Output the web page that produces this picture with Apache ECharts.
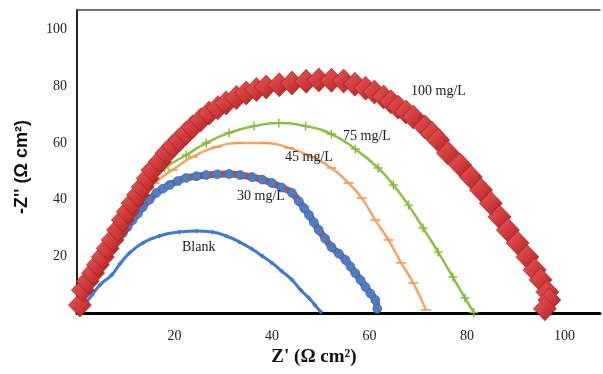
<!DOCTYPE html>
<html>
<head>
<meta charset="utf-8">
<script src="https://cdn.jsdelivr.net/npm/echarts@6/dist/echarts.min.js"></script>
<style>
html,body{margin:0;padding:0;background:#fff;}
#chart{width:603px;height:374px;}
</style>
</head>
<body>
<div id="chart"></div>
<script>
// Tick labels
const xTickLabels = [20, 40, 60, 80, 100];
const yTickLabels = [20, 40, 60, 80, 100];

// Series names
const seriesNames = ['Blank', '30 mg/L', '45 mg/L', '75 mg/L', '100 mg/L'];

// Nyquist data [Z', -Z'']
const blank = [[1.4,2.5],[3.1,6.4],[4.7,9.9],[7.1,13.4],[8.8,17.3],[10.8,21.2],[13.5,24.7],[16.9,27.2],[21.0,28.6],[24.5,29.0],[27.8,28.6],[30.6,27.2],[33.3,25.1],[35.9,22.6],[38.0,20.1],[40.0,17.7],[42.0,14.8],[44.1,11.7],[45.9,8.1],[47.6,5.3],[48.8,2.8],[50.0,0.4]];

const c30 = [[1.0,4.6],[2.1,8.2],[3.3,11.7],[4.3,14.7],[5.3,17.7],[6.3,20.5],[7.3,23.3],[8.4,25.8],[9.4,28.2],[10.4,30.5],[11.4,32.8],[12.5,35.1],[13.5,37.4],[14.9,40.0],[16.3,42.4],[17.6,43.9],[19.0,45.2],[20.7,46.6],[22.4,47.7],[24.5,48.3],[26.5,48.7],[28.8,49.0],[31.2,49.1],[33.5,48.7],[35.9,48.0],[38.0,47.1],[40.0,45.9],[42.0,44.3],[44.1,42.4],[45.5,39.5],[46.6,37.0],[47.6,34.6],[48.6,32.0],[49.6,29.3],[50.9,26.3],[52.2,23.3],[53.7,21.0],[55.1,18.7],[56.1,16.4],[57.1,14.1],[58.2,11.6],[59.2,9.2],[60.2,6.9],[61.2,4.6],[61.6,1.5]];

const c45 = [[0.6,1.8],[2.2,9.9],[4.3,18.0],[6.7,25.8],[9.8,33.5],[12.9,40.6],[15.9,45.9],[19.6,50.5],[23.7,55.1],[28.6,58.6],[33.3,60.0],[38.8,60.0],[43.5,58.3],[48.2,55.1],[52.2,51.2],[55.7,45.9],[58.4,40.6],[61.2,32.8],[63.9,25.8],[66.5,17.7],[69.0,10.6],[71.6,1.1]];

const c75 = [[0.6,1.8],[2.7,11.7],[5.1,20.5],[7.8,29.3],[10.8,38.1],[14.3,45.9],[18.0,51.2],[22.4,55.8],[26.5,60.0],[31.2,63.6],[36.3,66.0],[41.4,67.1],[46.9,66.0],[52.2,63.2],[57.1,57.9],[61.8,51.2],[64.9,45.2],[68.0,38.1],[71.0,30.0],[74.1,21.5],[77.1,12.7],[79.6,5.3],[81.4,0.2]];

const c100 = [[0.6,2.8],[1.2,8.1],[2.2,11.2],[3.3,14.1],[4.3,17.0],[5.3,19.8],[6.3,22.8],[7.3,25.8],[8.4,29.3],[9.4,32.8],[10.4,35.8],[11.4,38.8],[12.5,41.7],[13.5,44.5],[14.5,47.5],[15.5,50.5],[17.0,53.5],[18.4,56.5],[19.7,58.9],[21.0,61.1],[22.4,63.5],[23.7,65.7],[25.4,68.2],[27.1,70.6],[28.9,72.5],[30.6,74.2],[32.7,76.1],[34.7,77.7],[36.8,78.9],[38.8,79.8],[41.5,80.6],[44.1,81.2],[47.0,81.8],[49.6,82.3],[52.2,82.2],[54.7,81.9],[57.0,80.8],[59.2,79.4],[61.0,78.0],[62.9,76.3],[64.4,74.6],[65.9,72.7],[67.5,71.0],[69.0,69.2],[71.4,65.7],[72.8,63.5],[74.1,61.1],[76.1,56.5],[78.6,52.3],[80.8,48.0],[82.9,43.4],[84.9,38.8],[86.7,33.9],[88.4,29.3],[90.4,24.7],[92.4,19.8],[93.9,15.2],[95.1,11.7],[96.5,7.4],[96.9,4.6],[96.0,1.5]];

const chart = echarts.init(document.getElementById('chart'), null, {renderer:'canvas'});
const serif = '"Liberation Serif", "Times New Roman", serif';

const option = {
  animation: false,
  backgroundColor: '#ffffff',
  grid: {left: 77, top: 10, right: 0, bottom: 61, show: false},
  xAxis: [{
    type: 'value', min: 0, max: 107.3, interval: 20,
    axisLine: {show: true, onZero: false, lineStyle: {color: '#000', width: 3}},
    axisTick: {show: false},
    splitLine: {show: false},
    axisLabel: {
      margin: 16, fontFamily: serif, fontSize: 14, color: '#222',
      formatter: v => xTickLabels.includes(v) ? String(v) : ''
    }
  }, {
    type: 'value', position: 'top', min: 0, max: 107.3, interval: 20,
    axisLine: {show: true, onZero: false, lineStyle: {color: '#444', width: 1.5}},
    axisTick: {show: false}, axisLabel: {show: false}, splitLine: {show: false}
  }],
  yAxis: {
    type: 'value', min: 0, max: 107, interval: 20,
    axisLine: {show: true, onZero: false, lineStyle: {color: '#222', width: 2}},
    axisTick: {show: false},
    splitLine: {show: false},
    axisLabel: {
      margin: 10, fontFamily: serif, fontSize: 14, color: '#222',
      formatter: v => yTickLabels.includes(v) ? String(v) : ''
    }
  },
  series: [
    {
      name: seriesNames[0], type: 'line', data: blank, smooth: true,
      symbol: 'diamond', symbolSize: 5,
      itemStyle: {color: '#3d7ccc'},
      lineStyle: {color: '#3d7ccc', width: 3}, z: 2
    },
    {
      name: seriesNames[2], type: 'line', data: c45, smooth: true,
      symbol: 'rect', symbolSize: [10, 1.6],
      itemStyle: {color: '#f39a4c'},
      lineStyle: {color: '#f6a462', width: 2.5}, z: 3
    },
    {
      name: seriesNames[3], type: 'line', data: c75, smooth: true,
      symbol: 'path://M4.2,0H5.8V10H4.2ZM0,4.2H10V5.8H0Z', symbolSize: 9,
      itemStyle: {color: '#84b93c'},
      lineStyle: {color: '#8cc043', width: 2.5}, z: 3
    },
    {
      name: seriesNames[1] + ' shadow', type: 'line', data: c30, smooth: true,
      symbol: 'none',
      lineStyle: {color: '#b12e2e', width: 7, opacity: 0.85}, z: 4
    },
    {
      name: seriesNames[1], type: 'line', data: c30, smooth: true,
      symbol: 'circle', symbolSize: 9,
      itemStyle: {color: '#4a7fc8', borderColor: '#3565a8', borderWidth: 0.6},
      lineStyle: {opacity: 0}, z: 5
    },
    {
      name: seriesNames[4], type: 'line', data: c100,
      symbol: 'diamond', symbolSize: [23, 24],
      itemStyle: {
        color: new echarts.graphic.LinearGradient(0, 0, 1, 1, [
          {offset: 0, color: '#e65d5d'},
          {offset: 0.5, color: '#d23b3b'},
          {offset: 1, color: '#a91f1f'}
        ]),
        borderColor: '#8e1a1a', borderWidth: 0.6
      },
      lineStyle: {opacity: 0}, z: 6
    }
  ],
  graphic: [
    {type: 'text', left: 182, top: 240, z: 100, style: {text: 'Blank', font: '14px ' + serif, fill: '#222'}},
    {type: 'text', left: 237, top: 189, z: 100, style: {text: '30 mg/L', font: '14px ' + serif, fill: '#222'}},
    {type: 'text', left: 285, top: 150, z: 100, style: {text: '45 mg/L', font: '14px ' + serif, fill: '#222'}},
    {type: 'text', left: 343, top: 129, z: 100, style: {text: '75 mg/L', font: '14px ' + serif, fill: '#222'}},
    {type: 'text', left: 411, top: 84, z: 100, style: {text: '100 mg/L', font: '14px ' + serif, fill: '#222'}},
    {type: 'text', x: 314, y: 357, z: 100, style: {text: "Z' (Ω cm²)", font: 'bold 19px ' + serif, fill: '#111', align: 'center', verticalAlign: 'middle'}},
    {type: 'text', x: 22, y: 167, rotation: Math.PI / 2, z: 100, style: {text: "-Z'' (Ω cm²)", font: 'bold 18px "Liberation Sans", Arial, sans-serif', fill: '#111', align: 'center', verticalAlign: 'middle'}}
  ]
};
chart.setOption(option);
</script>
</body>
</html>
